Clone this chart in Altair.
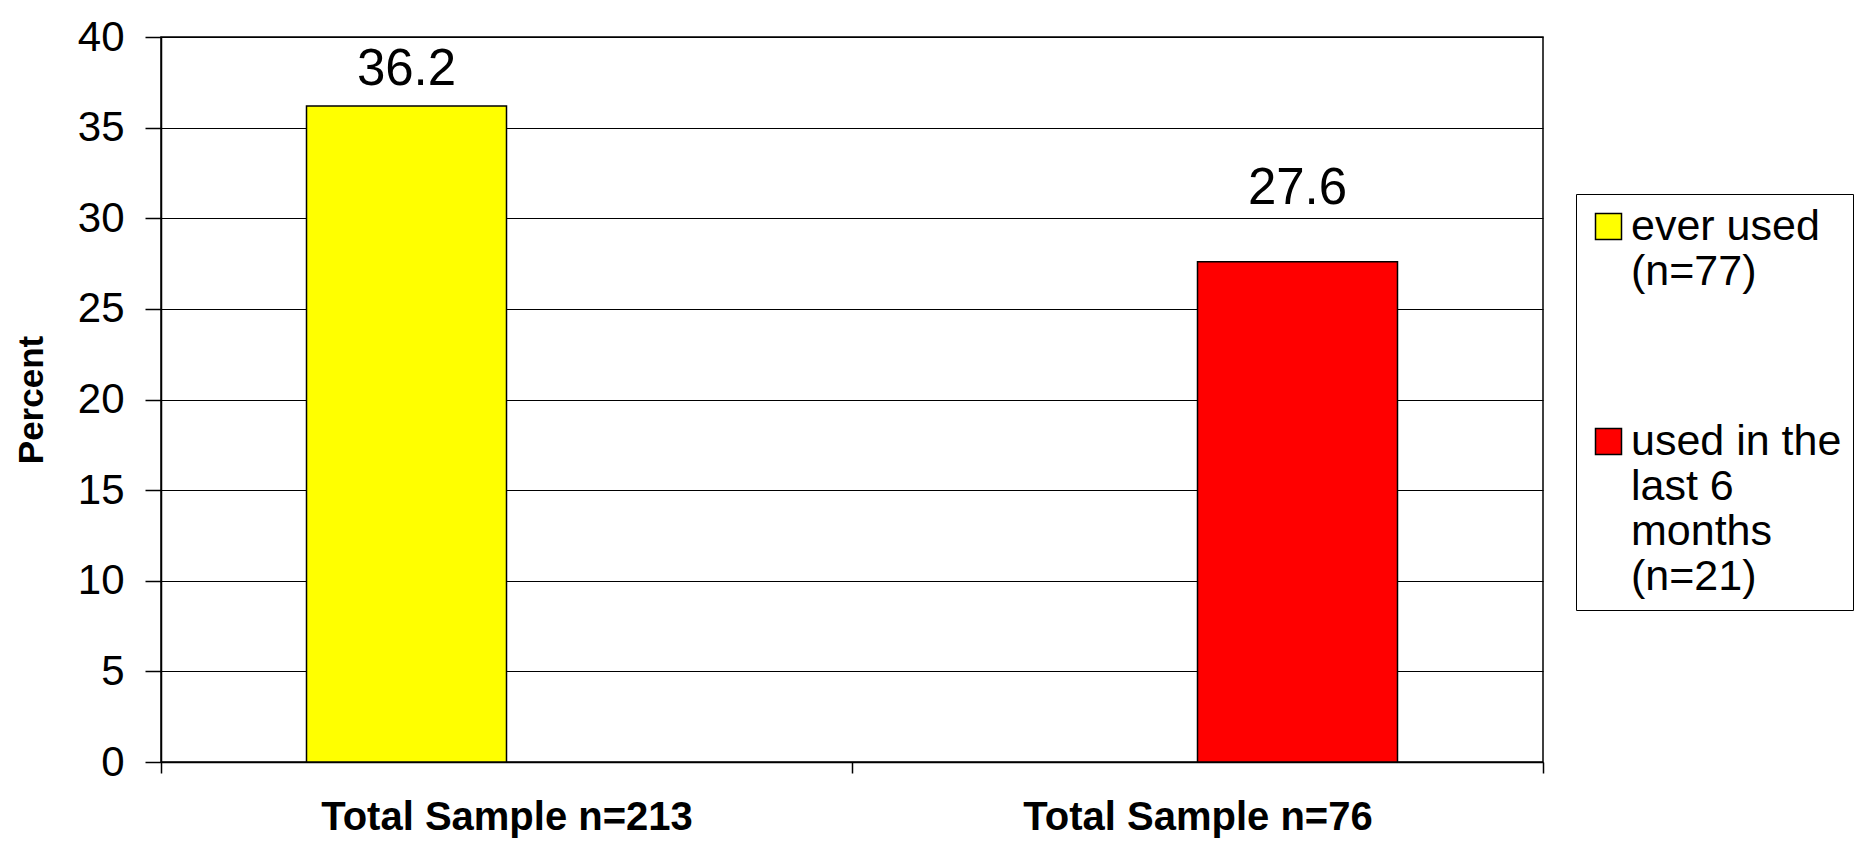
import altair as alt
import pandas as pd

# ---- data ----
categories = ["Total Sample n=213", "Total Sample n=76"]
series = ["ever used\n(n=77)", "used in the\nlast 6\nmonths\n(n=21)"]
values = [36.2, 27.6]
colors = ["#ffff00", "#ff0000"]
y_ticks = [0, 5, 10, 15, 20, 25, 30, 35, 40]

# style: vertical offset (px) of each value label above its bar
label_shift = [-21, -58]

FONT = "Liberation Sans"

df = pd.DataFrame({"category": categories, "series": series, "value": values})

x_scale = alt.Scale(domain=categories, paddingInner=0, paddingOuter=0)
xoff_scale = alt.Scale(domain=series, paddingInner=0, paddingOuter=0.7275)
y_scale = alt.Scale(domain=[0, 40], nice=False)

x_axis = alt.Axis(
    title=None, labelAngle=0, labelFont=FONT, labelFontSize=40, labelFontWeight="bold",
    labelColor="black", labelPadding=24, labelLimit=600, tickBand="extent",
    tickSize=11, tickColor="black", tickWidth=1.5, domainColor="black", domainWidth=1.5,
    grid=False,
)
y_axis = alt.Axis(
    values=y_ticks, title="Percent", titleFont=FONT, titleFontSize=35, titleFontWeight="bold",
    titleColor="black", titleX=-130, titleBaseline="middle",
    labelFont=FONT, labelFontSize=42, labelColor="black", labelPadding=21,
    tickSize=16, tickColor="black", tickWidth=1.5, domainColor="black", domainWidth=1.5,
    grid=True, gridColor="black", gridWidth=1.2,
)

legend = alt.Legend(
    title=None, orient="none", legendX=1415, legendY=157, direction="vertical",
    symbolType="square", symbolSize=676, symbolStrokeColor="black", symbolStrokeWidth=1.5,
    symbolOpacity=1, labelFont=FONT, labelFontSize=43, labelColor="black", labelLimit=500,
    labelOffset=1, labelExpr="split(datum.label, '\\n')", rowPadding=126, padding=11,
    strokeColor="black", fillColor="white",
)

bars = alt.Chart(df).mark_bar(stroke="black", strokeWidth=1.5).encode(
    x=alt.X("category:N", sort=categories, scale=x_scale, axis=x_axis),
    xOffset=alt.XOffset("series:N", sort=series, scale=xoff_scale),
    y=alt.Y("value:Q", scale=y_scale, axis=y_axis),
    color=alt.Color("series:N", sort=series, scale=alt.Scale(domain=series, range=colors), legend=legend),
)

texts = []
for s, d in zip(series, label_shift):
    texts.append(
        alt.Chart(df)
        .transform_filter(alt.FieldEqualPredicate(field="series", equal=s))
        .mark_text(font=FONT, fontSize=51, color="black", align="center", baseline="alphabetic", dy=d)
        .encode(
            x=alt.X("category:N", sort=categories, scale=x_scale),
            xOffset=alt.XOffset("series:N", sort=series, scale=xoff_scale),
            y=alt.Y("value:Q", scale=y_scale),
            text=alt.Text("value:Q", format=".1f"),
        )
    )

chart = (
    alt.layer(bars, *texts)
    .properties(
        width=1382, height=725,
        autosize=alt.AutoSizeParams(type="none"),
        padding={"left": 153, "top": 29, "right": 316, "bottom": 76},
    )
    .configure(font=FONT)
    .configure_view(stroke="black", strokeWidth=1.5)
)

chart.save("out.html", embed_options={"renderer": "svg", "actions": False})
